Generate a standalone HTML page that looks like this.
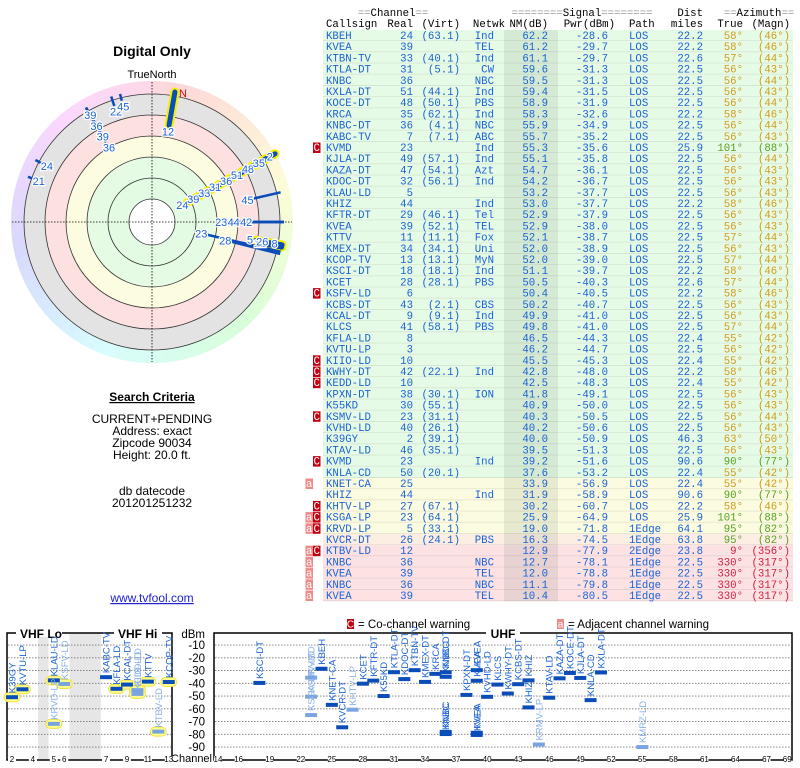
<!DOCTYPE html>
<html><head><meta charset="utf-8"><style>
html,body{margin:0;padding:0;background:#fff;width:800px;height:768px;overflow:hidden}
svg{display:block}
.s{font-family:"Liberation Sans",sans-serif}
.m{font-family:"Liberation Mono",monospace;font-size:10.7px}
</style></head><body>
<svg id="root" width="800" height="768" viewBox="0 0 800 768">
<g class="s">
<text x="152" y="56" text-anchor="middle" font-weight="bold" font-size="14">Digital Only</text>
<text x="152" y="78" text-anchor="middle" font-size="11">TrueNorth</text>
<g id="polar"></g>
<text x="152" y="401" text-anchor="middle" font-weight="bold" font-size="12" text-decoration="underline">Search Criteria</text>
<g font-size="12" text-anchor="middle">
<text x="152" y="423">CURRENT+PENDING</text>
<text x="152" y="435">Address: exact</text>
<text x="152" y="447">Zipcode 90034</text>
<text x="152" y="459">Height: 20.0 ft.</text>
<text x="152" y="495">db datecode</text>
<text x="152" y="507">201201251232</text>
</g>
<text x="152" y="602" text-anchor="middle" font-size="12" fill="#2020d0" text-decoration="underline">www.tvfool.com</text>
</g>
<g class="m" id="table">
<text x="393" y="16" text-anchor="middle" fill="#000"><tspan fill="#999">==</tspan>Channel<tspan fill="#999">==</tspan></text>
<text x="582" y="16" text-anchor="middle"><tspan fill="#999">========</tspan>Signal<tspan fill="#999">========</tspan></text>
<text x="703" y="16" text-anchor="end">Dist</text>
<text x="759" y="16" text-anchor="middle"><tspan fill="#999">==</tspan>Azimuth<tspan fill="#999">==</tspan></text>
<text x="326" y="27">Callsign</text>
<text x="413" y="27" text-anchor="end">Real</text>
<text x="460" y="27" text-anchor="end">(Virt)</text>
<text x="505" y="27" text-anchor="end">Netwk</text>
<text x="548" y="27" text-anchor="end">NM(dB)</text>
<text x="615" y="27" text-anchor="end">Pwr(dBm)</text>
<text x="629" y="27">Path</text>
<text x="703" y="27" text-anchor="end">miles</text>
<text x="743" y="27" text-anchor="end">True</text>
<text x="790" y="27" text-anchor="end">(Magn)</text>
</g>
<g id="bottom" class="s"></g>
</svg>
<script>
const NS='http://www.w3.org/2000/svg';
function mk(tag,attrs,parent){const e=document.createElementNS(NS,tag);for(const k in attrs)e.setAttribute(k,attrs[k]);parent.appendChild(e);return e;}

// ---------- table data ----------
const callsigns=['KBEH','KVEA','KTBN-TV','KTLA-DT','KNBC','KXLA-DT','KOCE-DT','KRCA','KNBC-DT','KABC-TV','KVMD','KJLA-DT','KAZA-DT','KDOC-DT','KLAU-LD','KHIZ','KFTR-DT','KVEA','KTTV','KMEX-DT','KCOP-TV','KSCI-DT','KCET','KSFV-LD','KCBS-DT','KCAL-DT','KLCS','KFLA-LD','KVTU-LP','KIIO-LD','KWHY-DT','KEDD-LD','KPXN-DT','K55KD','KSMV-LD','KVHD-LD','K39GY','KTAV-LD','KVMD','KNLA-CD','KNET-CA','KHIZ','KHTV-LP','KSGA-LP','KRVD-LP','KVCR-DT','KTBV-LD','KNBC','KVEA','KNBC','KVEA'];
const realCh=[24,39,33,31,36,51,48,35,36,7,23,49,47,32,5,44,29,39,11,34,13,18,28,6,43,9,41,8,3,10,42,10,38,30,23,40,2,46,23,50,25,44,27,23,5,26,12,36,39,36,39];
const virtCh=['(63.1)','','(40.1)','(5.1)','','(44.1)','(50.1)','(62.1)','(4.1)','(7.1)','','(57.1)','(54.1)','(56.1)','','','(46.1)','(52.1)','(11.1)','(34.1)','(13.1)','(18.1)','(28.1)','','(2.1)','(9.1)','(58.1)','','','','(22.1)','','(30.1)','(55.1)','(31.1)','(26.1)','(39.1)','(35.1)','','(20.1)','','','(67.1)','(64.1)','(33.1)','(24.1)','','','','',''];
const netwk=['Ind','TEL','Ind','CW','NBC','Ind','PBS','Ind','NBC','ABC','Ind','Ind','Azt','Ind','','Ind','Tel','TEL','Fox','Uni','MyN','Ind','PBS','','CBS','Ind','PBS','','','','Ind','','ION','','','','','','Ind','','','Ind','','','','PBS','','NBC','TEL','NBC','TEL'];
const nmDb=[62.2,61.2,61.1,59.6,59.5,59.4,58.9,58.3,55.9,55.7,55.3,55.1,54.7,54.2,53.2,53.0,52.9,52.9,52.1,52.0,52.0,51.1,50.5,50.4,50.2,49.9,49.8,46.5,46.2,45.5,42.8,42.5,41.8,40.9,40.3,40.2,40.0,39.5,39.2,37.6,33.9,31.9,30.2,25.9,19.0,16.3,12.9,12.7,12.0,11.1,10.4];
const pwrDbm=[-28.6,-29.7,-29.7,-31.3,-31.3,-31.5,-31.9,-32.6,-34.9,-35.2,-35.6,-35.8,-36.1,-36.7,-37.7,-37.7,-37.9,-38.0,-38.7,-38.9,-39.0,-39.7,-40.3,-40.5,-40.7,-41.0,-41.0,-44.3,-44.7,-45.3,-48.0,-48.3,-49.1,-50.0,-50.5,-50.6,-50.9,-51.3,-51.6,-53.2,-56.9,-58.9,-60.7,-64.9,-71.8,-74.5,-77.9,-78.1,-78.8,-79.8,-80.5];
const pathType=['LOS','LOS','LOS','LOS','LOS','LOS','LOS','LOS','LOS','LOS','LOS','LOS','LOS','LOS','LOS','LOS','LOS','LOS','LOS','LOS','LOS','LOS','LOS','LOS','LOS','LOS','LOS','LOS','LOS','LOS','LOS','LOS','LOS','LOS','LOS','LOS','LOS','LOS','LOS','LOS','LOS','LOS','LOS','LOS','1Edge','1Edge','2Edge','1Edge','1Edge','1Edge','1Edge'];
const distMi=[22.2,22.2,22.6,22.5,22.5,22.5,22.5,22.2,22.5,22.5,25.9,22.5,22.5,22.5,22.5,22.2,22.5,22.5,22.5,22.5,22.5,22.2,22.6,22.2,22.5,22.5,22.5,22.4,22.5,22.4,22.2,22.4,22.5,22.5,22.5,22.5,46.3,22.5,90.6,22.4,22.4,90.6,22.2,25.9,64.1,63.8,23.8,22.5,22.5,22.5,22.5];
const azTrue=[58,58,57,56,56,56,56,58,56,56,101,56,56,56,56,58,56,56,57,56,57,58,57,58,56,56,57,55,56,55,58,55,56,56,56,56,63,56,90,55,55,90,58,101,95,95,9,330,330,330,330];
const azMagn=[46,46,44,43,44,43,44,46,44,43,88,44,43,43,43,46,43,43,44,43,44,46,44,46,43,43,44,42,42,42,46,42,43,43,44,43,50,43,77,42,42,77,46,88,82,82,356,317,317,317,317];
const warnings=['','','','','','','','','','','C','','','','','','','','','','','','','C','','','','','','C','C','C','','','C','','','','C','','a','','C','aC','aC','','aC','a','a','a','a'];

const tbl=document.getElementById('table');
const rowH=11.2, row0=30;
function rowBg(i){if(i<40)return '#e6fbe6';if(i<45)return '#fbfbe0';if(i===45)return '#fdeee4';return '#fde2e4';}
function azColor(a){if(a>=300||a<30)return '#d02040';if(a>=85)return '#58a020';return '#d09a1c';}
for(let i=0;i<callsigns.length;i++){
  const y=row0+i*rowH, b=y+9;
  const g=mk('g',{},tbl);
  
  
  mk('rect',{x:323,y:y,width:470,height:rowH,fill:rowBg(i)},g);
  mk('rect',{x:504,y:y,width:54,height:rowH,fill:'rgba(0,40,0,0.08)'},g);
  mk('line',{x1:323,x2:793,y1:y+rowH-0.5,y2:y+rowH-0.5,stroke:'rgba(0,0,0,0.08)','stroke-width':1},g);
  const c='#1a62d4';
  const cells=[[326,callsigns[i],'start'],[413,realCh[i],'end'],[460,virtCh[i],'end'],[494,netwk[i],'end'],[548,nmDb[i].toFixed(1),'end'],[608,pwrDbm[i].toFixed(1),'end'],[629,pathType[i],'start'],[703,distMi[i].toFixed(1),'end']];
  cells.forEach(cl=>{const t=mk('text',{x:cl[0],y:b,fill:c,'text-anchor':cl[2]},g);t.textContent=cl[1];});
  const ac=azColor(azTrue[i]);
  let t=mk('text',{x:743,y:b,fill:ac,'text-anchor':'end'},g);t.textContent=azTrue[i]+'°';
  t=mk('text',{x:790,y:b,fill:ac,'text-anchor':'end'},g);t.textContent='('+azMagn[i]+'°)';
  const w=warnings[i];
  if(w.includes('C')){
    const wb=mk('g',{},tbl);
    
    
    mk('rect',{x:313,y:y+0.5,width:7.5,height:10.5,fill:'#c40010'},wb);
    const tt=mk('text',{x:316.7,y:b,fill:'#fff','text-anchor':'middle'},wb);tt.textContent='C';
  }
  if(w.includes('a')){
    const wb=mk('g',{},tbl);
    
    
    mk('rect',{x:305.5,y:y+0.5,width:7.5,height:10.5,fill:'#f08888'},wb);
    const tt=mk('text',{x:309.2,y:b,fill:'#fff','text-anchor':'middle'},wb);tt.textContent='a';
  }
}

// ---------- polar chart ----------
const polarAz=[61,61,61,61,61,61,61,61,61,10,330,330,330,330,342,346,290,298,77,101,90,90,90,100,100,100,103,104];
const polarNM=[62.2,61.2,61.1,59.6,59.5,59.4,58.9,58.3,40.0,24,28,27,26,25,8,6,5,6,20,12,39.2,31.9,5,19.0,16.3,10,51.6,35];
const polarLabel=['24','39','33','31','36','51','48','35','2','12','36','39','36','39','22','45','21','24','45','12','23','44','42','5','26','8','23','28'];
const polarHL=[1,1,1,1,1,1,1,1,1,1,0,0,0,0,0,0,0,0,0,1,0,0,0,1,1,1,0,0];
const cx=152, cy=222, rOut=128;
const pg=document.getElementById('polar');
function pt(az,r){const a=az*Math.PI/180;return [cx+r*Math.sin(a),cy-r*Math.cos(a)];}
function rIn(nm){return rOut-nm*1.5;}
// stacked label radius: first of a spoke group at rIn, following ones 12px further out
const labelR=[];
for(let i=0;i<polarAz.length;i++){
  let k=0,first=i;
  for(let j=0;j<i;j++){if(polarAz[j]===polarAz[i]){if(k===0)first=j;k++;}}
  labelR.push(k===0?rIn(polarNM[i]):rIn(polarNM[first])+k*12.5);
}
for(let a=0;a<360;a+=5){
  const h=(350+a*0.97)%360;
  const p1=pt(a,141),p2=pt(a+5.5,141);
  mk('path',{d:`M${cx},${cy}L${p1[0]},${p1[1]}A141,141 0 0 1 ${p2[0]},${p2[1]}Z`,fill:`hsl(${h},90%,92%)`},pg);
}
const ringR=[128,107,86,65,44,23], ringF=['#e3e3e3','#fde0e0','#fcfce0','#e6fbe4','#e2fbe2','#ffffff'];
ringR.forEach((r,i)=>{const c=mk('circle',{cx:cx,cy:cy,r:r,fill:ringF[i],stroke:'#333','stroke-width':0.8},pg);
  
  });
mk('line',{x1:12,x2:292,y1:cy,y2:cy,stroke:'#000','stroke-width':0.8,'stroke-dasharray':'1.5,1.5'},pg);
mk('line',{x1:cx,x2:cx,y1:82,y2:362,stroke:'#000','stroke-width':0.8,'stroke-dasharray':'1.5,1.5'},pg);
const nl=mk('text',{x:183,y:97,fill:'#d01010','font-size':11,'text-anchor':'middle'},pg);nl.textContent='N';


for(let i=0;i<polarAz.length;i++){
  if(!polarHL[i])continue;
  const a=pt(polarAz[i],labelR[i]+6),b=pt(polarAz[i],rOut+4);
  mk('line',{x1:a[0],y1:a[1],x2:b[0],y2:b[1],stroke:'#f4f000','stroke-width':9,'stroke-linecap':'round'},pg);
}
for(let i=0;i<polarAz.length;i++){
  const a=pt(polarAz[i],labelR[i]+6),b=pt(polarAz[i],rOut+4);
  const l=mk('line',{x1:a[0],y1:a[1],x2:b[0],y2:b[1],stroke:'#0a4cb8','stroke-width':polarHL[i]?5:2.5,'stroke-linecap':polarHL[i]?'round':'butt'},pg);
  
  
}
for(let i=0;i<polarAz.length;i++){
  const a=pt(polarAz[i],labelR[i]);
  const t=mk('text',{x:a[0],y:a[1]+4,fill:'#1a62d4','font-size':11,'text-anchor':'middle',stroke:'#fff','stroke-width':2.5,'paint-order':'stroke'},pg);
  t.textContent=polarLabel[i];
  
  
}

// ---------- bottom channel chart ----------
const barName=['K39GY','KVTU-LP','KLAU-LD','KRVD-LP','KSFV-LD','KABC-TV','KFLA-LD','KCAL-DT','KIIO-LD','KEDD-LD','KTTV','KTBV-LD','KCOP-TV','KSCI-DT','KSMV-LD','KSGA-LP','KVMD','KBEH','KNET-CA','KVCR-DT','KHTV-LP','KCET','KFTR-DT','K55KD','KTLA-DT','KDOC-DT','KTBN-TV','KMEX-DT','KRCA','KNBC-DT','KNBC','KNBC','KNBC','KPXN-DT','KVEA','KVEA','KVEA','KVEA','KVHD-LD','KLCS','KWHY-DT','KCBS-DT','KHIZ','KHIZ','KRMV-LP','KTAV-LD','KAZA-DT','KOCE-DT','KJLA-DT','KNLA-CD','KXLA-DT','KMRZ-LD'];
const barCh=[2,3,5,5,6,7,8,9,10,10,11,12,13,18,23,23,23,24,25,26,27,28,29,30,31,32,33,34,35,36,36,36,36,38,39,39,39,39,40,41,42,43,44,44,45,46,47,48,49,50,51,55];
const barDbm=[-50.9,-44.7,-37.7,-71.8,-40.5,-35.2,-44.3,-41.0,-45.3,-48.3,-38.7,-77.9,-39.0,-39.7,-50.5,-64.9,-35.6,-28.6,-56.9,-74.5,-60.7,-40.3,-37.9,-50.0,-31.3,-36.7,-29.7,-38.9,-32.6,-34.9,-31.3,-78.1,-79.8,-49.1,-29.7,-38.0,-78.8,-80.5,-50.6,-41.0,-48.0,-40.7,-37.7,-58.9,-88.0,-51.3,-36.1,-31.9,-35.8,-53.2,-31.5,-90.0];
const barFaded=[0,0,0,1,1,0,0,0,1,1,0,1,0,0,1,1,1,0,0,0,1,0,0,0,0,0,0,0,0,0,0,0,0,0,0,0,0,0,0,0,0,0,0,0,1,0,0,0,0,0,0,1];
const barHL=[1,1,1,1,1,0,1,1,1,1,1,1,1,0,0,0,0,0,0,0,0,0,0,0,0,0,0,0,0,0,0,0,0,0,0,0,0,0,0,0,0,0,0,0,0,0,0,0,0,0,0,0];
const dbTicks=[-10,-20,-30,-40,-50,-60,-70,-80,-90];
const vhfTicks=[2,4,5,6,7,9,11,13];
const uhfTicks=[14,16,19,22,25,28,31,34,37,40,43,46,49,52,55,58,61,64,67,69];
const bg=document.getElementById('bottom');
function yD(d){return 632.3-d*1.275;}
function slotV(ch){return ch-2+(ch>=5?1:0)+(ch>=7?3:0);}
function xV(ch){return 12+slotV(ch)*10.45;}
function xU(ch){return 218+(ch-14)*10.35;}
function xCh(ch){return ch<=13?xV(ch):xU(ch);}
let lg=mk('g',{},bg);


mk('rect',{x:347,y:619,width:7,height:10,fill:'#c40010'},lg);
let t=mk('text',{x:350.5,y:627.5,fill:'#fff','font-size':10,'text-anchor':'middle'},lg);t.textContent='C';
t=mk('text',{x:358,y:628,'font-size':11.5},lg);t.textContent='= Co-channel warning';
mk('rect',{x:557,y:619,width:7,height:10,fill:'#f08888'},lg);
t=mk('text',{x:560.5,y:627.5,fill:'#fff','font-size':10,'text-anchor':'middle'},lg);t.textContent='a';
t=mk('text',{x:568,y:628,'font-size':11.5},lg);t.textContent='= Adjacent channel warning';
mk('rect',{x:xV(4)+5.2,y:633,width:10.45,height:127,fill:'#e6e6e6'},bg);
mk('rect',{x:xV(6)+5.2,y:633,width:31.35,height:127,fill:'#e6e6e6'},bg);
dbTicks.forEach(d=>{
  const y=yD(d);
  mk('line',{x1:8,x2:171,y1:y,y2:y,stroke:'#777','stroke-width':0.8,'stroke-dasharray':'1.5,1.5'},bg);
  mk('line',{x1:215,x2:791,y1:y,y2:y,stroke:'#777','stroke-width':0.8,'stroke-dasharray':'1.5,1.5'},bg);
  const tl=mk('text',{x:205,y:y+4,'font-size':11.5,'text-anchor':'end'},bg);tl.textContent=d;
  
  
});
t=mk('text',{x:205,y:638,'font-size':11.5,'text-anchor':'end'},bg);t.textContent='dBm';
t=mk('text',{x:212,y:762,'font-size':11,'text-anchor':'end'},bg);t.textContent='Channel';
mk('rect',{x:7,y:633,width:165,height:127,fill:'none',stroke:'#000','stroke-width':1.5},bg);
mk('rect',{x:214,y:633,width:578,height:127,fill:'none',stroke:'#000','stroke-width':1.5},bg);
mk('rect',{x:16,y:627,width:46,height:10,fill:'#fff'},bg);
mk('rect',{x:114,y:627,width:48,height:10,fill:'#fff'},bg);
mk('rect',{x:486,y:627,width:34,height:10,fill:'#fff'},bg);
t=mk('text',{x:20,y:638,'font-size':12,'font-weight':'bold'},bg);t.textContent='VHF Lo';
t=mk('text',{x:118,y:638,'font-size':12,'font-weight':'bold'},bg);t.textContent='VHF Hi';
t=mk('text',{x:503,y:638,'font-size':12,'font-weight':'bold','text-anchor':'middle'},bg);t.textContent='UHF';
vhfTicks.concat(uhfTicks).forEach(ch=>{
  const x=xCh(ch);
  mk('rect',{x:x-4,y:756,width:8,height:8,fill:'#fff'},bg);
  const tl=mk('text',{x:x,y:762,'font-size':8,'text-anchor':'middle'},bg);tl.textContent=ch;
  
  
});
for(let i=0;i<barCh.length;i++){
  const x=xCh(barCh[i]), y=yD(barDbm[i]);
  if(barHL[i]){
    mk('rect',{x:x-8,y:y-4.5,width:16,height:9,rx:4.5,fill:'#ffff90',stroke:'#f0e040','stroke-width':1},bg);
  }
}
for(let i=0;i<barCh.length;i++){
  const x=xCh(barCh[i]), y=yD(barDbm[i]);
  const col=barFaded[i]?'#7aa4e0':'#0a4cb8';
  const r=mk('rect',{x:x-6,y:y-2,width:12,height:4,fill:col},bg);
  
  
  const tl=mk('text',{x:0,y:0,'font-size':9.5,fill:barFaded[i]?'#8ab0e8':'#1a62d4',transform:`translate(${x+3.5},${y-4}) rotate(-90)`},bg);
  tl.textContent=barName[i];
  
  
}
</script>
</body></html>
